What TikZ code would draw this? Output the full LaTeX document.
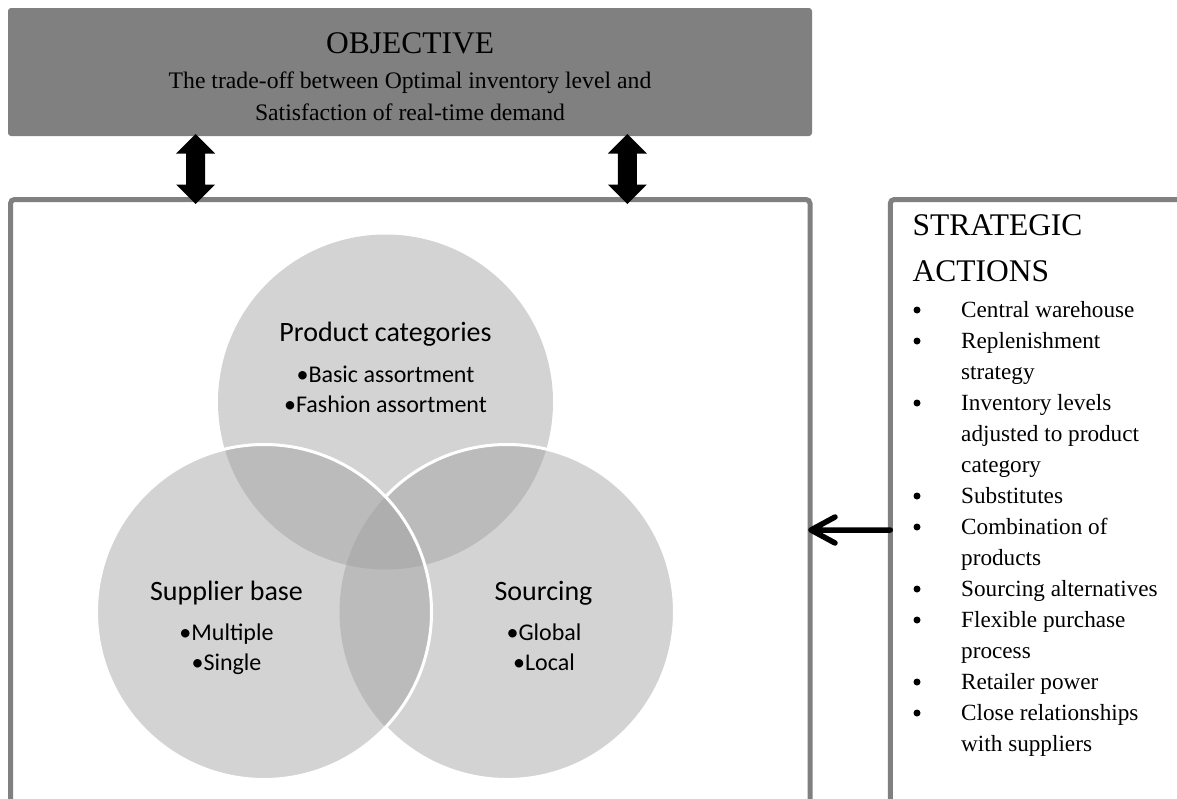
\documentclass[tikz,border=0pt]{standalone}
\usepackage{fontspec}
\setmainfont{Liberation Serif}
\newfontfamily\vennfont{Carlito}
\usetikzlibrary{calc}

\definecolor{boxgray}{RGB}{128,128,128}
\definecolor{framegray}{RGB}{128,128,128}
\definecolor{venngray}{RGB}{158,158,158}

\tikzset{
  frame/.style={draw=framegray, line width=5pt, rounded corners=4pt,
    inner sep=0pt, outer sep=0pt, anchor=north west},
  vennfill/.style={fill=venngray, fill opacity=0.45},
  vennedge/.style={draw=white, line width=3pt},
  venntitle/.style={font=\vennfont\fontsize{28}{30}\selectfont, anchor=base, inner sep=0pt},
  vennitem/.style={font=\vennfont\fontsize{24}{30}\selectfont, anchor=base, inner sep=0pt},
  headtext/.style={font=\fontsize{31.5}{36}\selectfont, inner sep=0pt},
  bodytext/.style={font=\fontsize{23.7}{30}\selectfont, anchor=base, inner sep=0pt},
  listtext/.style={font=\fontsize{23.2}{30}\selectfont, anchor=base west, inner sep=0pt},
  listbullet/.style={circle, fill=black, inner sep=0pt, minimum size=7pt},
  blockarrow/.style={fill=black},
  linkarrow/.style={draw=black, line width=5.5pt, line cap=round, line join=round},
}

% double-headed block arrow hanging from a top tip point
\newcommand{\dblarrow}[1]{%
  \fill[blockarrow] (#1) -- ++(19.5,19.5) -- ++(-10,0) -- ++(0,31) -- ++(10,0)
    -- ++(-19.5,19.5) -- ++(-19.5,-19.5) -- ++(10,0) -- ++(0,-31) -- ++(-10,0) -- cycle;}

\begin{document}
\begin{tikzpicture}[x=1pt, y=-1pt]
\useasboundingbox (0,0) rectangle (1177,798);
\clip (0,0) rectangle (1177,798);

% objective banner
\node[fill=boxgray, rounded corners=3pt, inner sep=0pt, outer sep=0pt,
  minimum width=804pt, minimum height=128pt, anchor=north west] (objbox) at (8,8) {};
\node[headtext, anchor=base] (objtitle) at (410,53.3) {OBJECTIVE};
\node[bodytext] (objline1) at (410,88.3) {The trade-off between Optimal inventory level and};
\node[bodytext] (objline2) at (410,120) {Satisfaction of real-time demand};

% frames running off the page
\node[frame, minimum width=799.5pt, minimum height=700pt] (mainbox) at (10.5,199.5) {};
\node[frame, minimum width=400pt, minimum height=700pt] (actbox) at (890.3,199.5) {};

% two-way links between objective and the Venn frame
\coordinate (lnkA) at (195.7,134);
\coordinate (lnkB) at (627.3,134);
\dblarrow{lnkA}
\dblarrow{lnkB}

% Venn diagram
\coordinate (ctop) at (385.5,402);
\coordinate (clft) at (264,612);
\coordinate (crgt) at (507,612);
\fill[vennfill] (ctop) circle (167.5pt);
\fill[vennfill] (crgt) circle (167.5pt);
\fill[vennfill] (clft) circle (167.5pt);
\begin{scope}[even odd rule]
  \clip (0,0) rectangle (1177,798) (clft) circle (167.5pt);
  \draw[vennedge] (crgt) circle (167.5pt);
\end{scope}
\draw[vennedge] (clft) circle (167.5pt);

\node[venntitle] (ptitle) at (385.5,341.7) {Product categories};
\node[vennitem] (pitem1) at (385.5,382.3) {•Basic assortment};
\node[vennitem] (pitem2) at (385.5,412.3) {•Fashion assortment};

\node[venntitle] (stitle) at (226.5,600) {Supplier base};
\node[vennitem] (sitem1) at (226.5,640) {•Multiple};
\node[vennitem] (sitem2) at (226.5,670) {•Single};

\node[venntitle] (otitle) at (543.5,600) {Sourcing};
\node[vennitem] (oitem1) at (544,640) {•Global};
\node[vennitem] (oitem2) at (544,670) {•Local};

% strategic actions
\node[headtext, anchor=base west] (acttitle1) at (912.5,235) {STRATEGIC};
\node[headtext, anchor=base west] (acttitle2) at (912.5,281.7) {ACTIONS};
\foreach [count=\k from 0] \txt/\hasb in {
  Central warehouse/1, Replenishment/1, strategy/0, Inventory levels/1,
  adjusted to product/0, category/0, Substitutes/1, Combination of/1,
  products/0, Sourcing alternatives/1, Flexible purchase/1, process/0,
  Retailer power/1, Close relationships/1, with suppliers/0} {
  \node[listtext] (act\k) at (961,{317+31*\k}) {\txt};
  \ifnum\hasb=1
    \node[listbullet] (actb\k) at (917,{310+31*\k}) {};
  \fi
}

% actions feed back into the Venn frame
\coordinate (lnkC) at (actbox.west |- 0,530);
\coordinate (lnkD) at ($(mainbox.east |- 0,530)+(1,0)$);
\draw[linkarrow] (lnkC) -- (lnkD) -- ++(24,-13) (lnkD) -- ++(24,13);
\end{tikzpicture}
\end{document}
